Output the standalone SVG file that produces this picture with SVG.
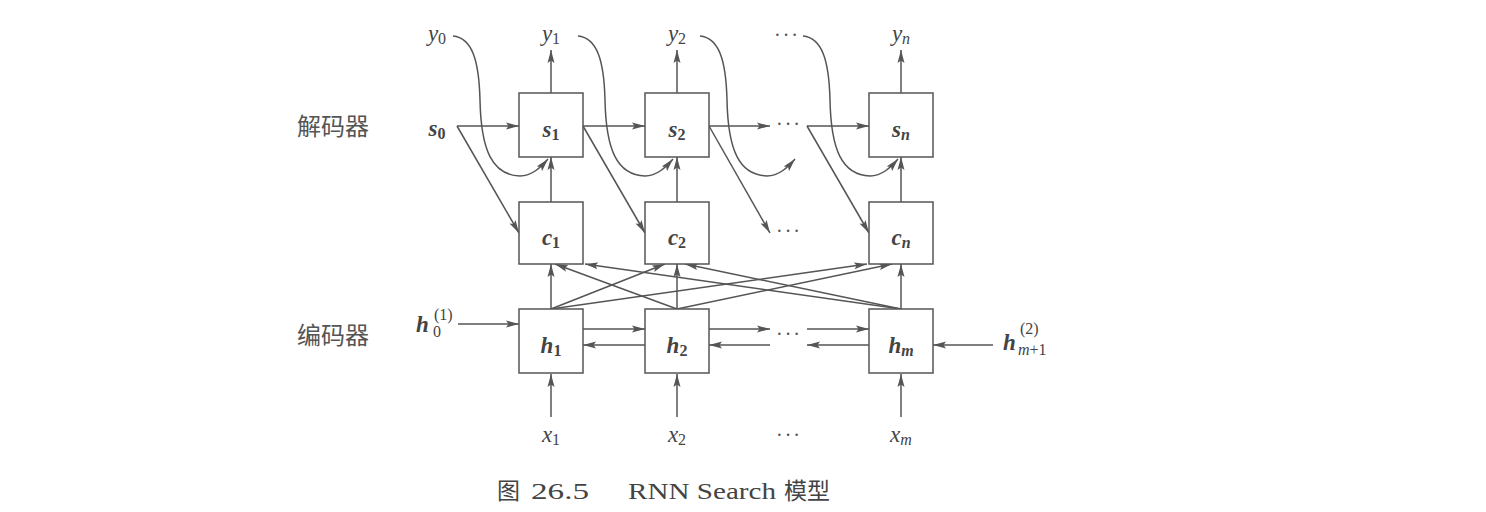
<svg xmlns="http://www.w3.org/2000/svg" width="1486" height="512" viewBox="0 0 1486 512">
<defs>
<style>
.ln{stroke:#555;stroke-width:1.5;fill:none}
.ar{marker-end:url(#ah)}
.box{fill:#fff;stroke:#555;stroke-width:1.5}
.m{font-family:"Liberation Serif",serif;font-style:italic;font-size:23px;fill:#444}
.b{font-weight:bold}
.sb{font-size:16px}
.up{font-style:normal}
.zh{font-family:"Noto Sans CJK SC",sans-serif;font-size:24px;fill:#555}
.cap{font-family:"Liberation Serif","Noto Sans CJK SC",serif;font-size:24px;fill:#444}
.cz{font-family:"Noto Sans CJK SC",sans-serif;font-size:23px;fill:#444}
.dots{font-family:"Liberation Serif",serif;font-size:20px;fill:#555;letter-spacing:2px}
</style>
<marker id="ah" viewBox="0 0 13 8" refX="13" refY="4" markerWidth="13" markerHeight="8" markerUnits="userSpaceOnUse" orient="auto">
<path d="M0,0.5 L13,4 L0,7.5 L2.5,4 z" fill="#555"/>
</marker>
<path id="ycurve" d="M453,36 C472,38 479,60 480,100 C481,150 492,175 520,176 C532,176 541,167 548,159"/>
</defs>

<rect width="1486" height="512" fill="#fff"/>

<g id="connectors">
<path class="ln ar" d="M551,93 L551,50"/>
<path class="ln ar" d="M677,93 L677,50"/>
<path class="ln ar" d="M901,93 L901,50"/>
<path class="ln ar" d="M551,202 L551,157"/>
<path class="ln ar" d="M677,202 L677,157"/>
<path class="ln ar" d="M901,202 L901,157"/>
<path class="ln ar" d="M551,309 L551,264"/>
<path class="ln ar" d="M677,309 L677,264"/>
<path class="ln ar" d="M901,309 L901,264"/>
<path class="ln ar" d="M551,417 L551,374"/>
<path class="ln ar" d="M677,417 L677,374"/>
<path class="ln ar" d="M901,417 L901,374"/>
<path class="ln ar" d="M457,126 L519,126"/>
<path class="ln ar" d="M583,126 L645,126"/>
<path class="ln ar" d="M709,126 L770,126"/>
<path class="ln ar" d="M807,126 L869,126"/>
<path class="ln ar" d="M457,126 L519,233"/>
<path class="ln ar" d="M583,126 L645,233"/>
<path class="ln ar" d="M709,126 L770,233"/>
<path class="ln ar" d="M807,126 L869,233"/>
<use href="#ycurve" class="ln ar"/>
<use href="#ycurve" class="ln ar" transform="translate(125,0)"/>
<use href="#ycurve" class="ln ar" transform="translate(247,0)"/>
<use href="#ycurve" class="ln ar" transform="translate(350,0)"/>
<path class="ln ar" d="M458,324 L519,324"/>
<path class="ln ar" d="M583,329 L645,329"/>
<path class="ln ar" d="M645,345 L583,345"/>
<path class="ln ar" d="M709,329 L770,329"/>
<path class="ln ar" d="M807,329 L869,329"/>
<path class="ln ar" d="M869,345 L807,345"/>
<path class="ln ar" d="M770,345 L709,345"/>
<path class="ln ar" d="M993,345 L933,345"/>
<path class="ln ar" d="M551,309 L665,264"/>
<path class="ln ar" d="M551,309 L867,264"/>
<path class="ln ar" d="M677,309 L555,264"/>
<path class="ln ar" d="M677,309 L892,264"/>
<path class="ln ar" d="M901,309 L585,264"/>
<path class="ln ar" d="M901,309 L685,264"/>
</g>

<g id="s1"><rect class="box" x="519" y="93" width="64" height="64"/><text class="m b" x="551" y="137" text-anchor="middle">s<tspan class="sb up" dy="3">1</tspan></text></g>
<g id="s2"><rect class="box" x="645" y="93" width="64" height="64"/><text class="m b" x="677" y="137" text-anchor="middle">s<tspan class="sb up" dy="3">2</tspan></text></g>
<g id="sn"><rect class="box" x="869" y="93" width="64" height="64"/><text class="m b" x="901" y="137" text-anchor="middle">s<tspan class="sb" dy="3">n</tspan></text></g>

<g id="c1"><rect class="box" x="519" y="202" width="64" height="62"/><text class="m b" x="551" y="245" text-anchor="middle">c<tspan class="sb up" dy="3">1</tspan></text></g>
<g id="c2"><rect class="box" x="645" y="202" width="64" height="62"/><text class="m b" x="677" y="245" text-anchor="middle">c<tspan class="sb up" dy="3">2</tspan></text></g>
<g id="cn"><rect class="box" x="869" y="202" width="64" height="62"/><text class="m b" x="901" y="245" text-anchor="middle">c<tspan class="sb" dy="3">n</tspan></text></g>

<g id="h1"><rect class="box" x="519" y="309" width="64" height="64"/><text class="m b" x="551" y="353" text-anchor="middle">h<tspan class="sb up" dy="3">1</tspan></text></g>
<g id="h2"><rect class="box" x="645" y="309" width="64" height="64"/><text class="m b" x="677" y="353" text-anchor="middle">h<tspan class="sb up" dy="3">2</tspan></text></g>
<g id="hm"><rect class="box" x="869" y="309" width="64" height="64"/><text class="m b" x="901" y="353" text-anchor="middle">h<tspan class="sb" dy="3">m</tspan></text></g>

<g id="labels">
<text class="m" x="437" y="41" text-anchor="middle">y<tspan class="sb up" dy="3">0</tspan></text>
<text class="m" x="551" y="41" text-anchor="middle">y<tspan class="sb up" dy="3">1</tspan></text>
<text class="m" x="677" y="41" text-anchor="middle">y<tspan class="sb up" dy="3">2</tspan></text>
<text class="dots" x="787" y="42" text-anchor="middle">···</text>
<text class="m" x="901" y="41" text-anchor="middle">y<tspan class="sb" dy="3">n</tspan></text>

<text class="m b" x="437" y="136" text-anchor="middle">s<tspan class="sb up" dy="3">0</tspan></text>
<text class="dots" x="789" y="131" text-anchor="middle">···</text>
<text class="dots" x="789" y="238" text-anchor="middle">···</text>
<text class="dots" x="789" y="341" text-anchor="middle">···</text>

<text class="m b" x="416" y="332">h</text>
<text class="m sb up" x="433" y="337">0</text>
<text class="m sb up" x="434" y="320">(1)</text>

<text class="m b" x="1003" y="350">h</text>
<text class="m sb" x="1018" y="355">m<tspan class="up">+1</tspan></text>
<text class="m sb up" x="1020" y="334">(2)</text>

<text class="m" x="551" y="442" text-anchor="middle">x<tspan class="sb up" dy="3">1</tspan></text>
<text class="m" x="677" y="442" text-anchor="middle">x<tspan class="sb up" dy="3">2</tspan></text>
<text class="dots" x="789" y="442" text-anchor="middle">···</text>
<text class="m" x="901" y="442" text-anchor="middle">x<tspan class="sb" dy="3">m</tspan></text>

<text class="zh" x="297" y="135">解码器</text>
<text class="zh" x="297" y="344">编码器</text>

<text class="cz" x="497" y="499">图</text>
<text class="cap" x="531" y="499" textLength="58" lengthAdjust="spacingAndGlyphs">26.5</text>
<text class="cap" x="628" y="499" textLength="148" lengthAdjust="spacingAndGlyphs">RNN Search</text>
<text class="cz" x="784" y="499">模型</text>
</g>
</svg>
